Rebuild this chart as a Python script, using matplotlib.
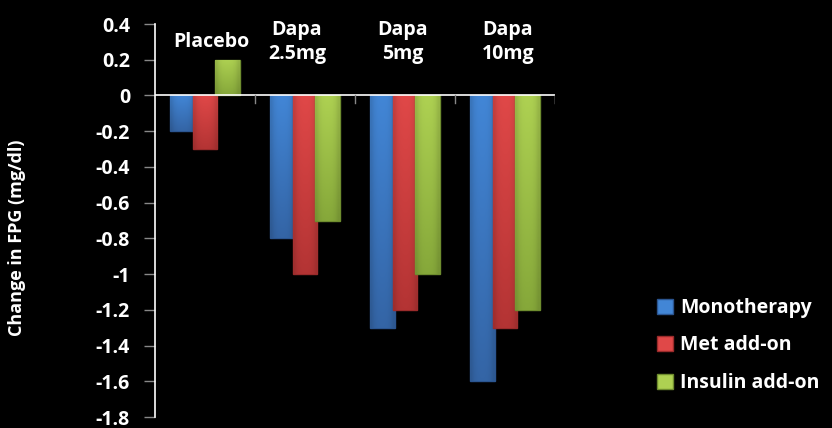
import matplotlib
matplotlib.use("Agg")
import matplotlib.pyplot as plt
import numpy as np
from matplotlib.colors import to_rgb

categories = ["Placebo", "Dapa\n2.5mg", "Dapa\n5mg", "Dapa\n10mg"]
series = ["Monotherapy", "Met add-on", "Insulin add-on"]
monotherapy = [-0.2, -0.8, -1.3, -1.6]
met_addon = [-0.3, -1.0, -1.2, -1.3]
insulin_addon = [0.2, -0.7, -1.0, -1.2]
yticks = [0.4, 0.2, 0, -0.2, -0.4, -0.6, -0.8, -1, -1.2, -1.4, -1.6, -1.8]
ytick_labels = ["0.4", "0.2", "0", "-0.2", "-0.4", "-0.6", "-0.8", "-1", "-1.2", "-1.4", "-1.6", "-1.8"]

colors_top = ["#4286D6", "#E04848", "#AED152"]
colors_bot = ["#3465A6", "#B43434", "#86A83A"]
edge_colors = ["#2B5590", "#9A2B2B", "#6E8C2E"]

FONT = "Open Sans"
plt.rcParams["font.family"] = [FONT, "DejaVu Sans"]
plt.rcParams["font.weight"] = "bold"

fig = plt.figure(figsize=(8.32, 4.28), dpi=100, facecolor="black")
ax = fig.add_axes([155 / 832, 1 - 417 / 428, 400 / 832, (417 - 24) / 428])
ax.set_facecolor("black")

x = np.arange(len(categories))
spacing = 0.225
width = 0.245
values = [monotherapy, met_addon, insulin_addon]


def gradient_fill(patch, c_top, c_bot):
    x0, y0 = patch.get_x(), patch.get_y()
    w, h = patch.get_width(), patch.get_height()
    ylo, yhi = min(y0, y0 + h), max(y0, y0 + h)
    top = np.array(to_rgb(c_top))
    bot = np.array(to_rgb(c_bot))
    n = 64
    t = np.linspace(0, 1, n)[:, None]
    col = top * (1 - t) + bot * t
    img = np.repeat(col[:, None, :], 8, axis=1)
    # subtle horizontal shading toward the bar edges
    hx = np.linspace(-1, 1, 8)
    shade = 1 - 0.12 * np.abs(hx) ** 3
    img = img * shade[None, :, None]
    im = ax.imshow(img, extent=[x0, x0 + w, ylo, yhi], origin="upper",
                   aspect="auto", zorder=patch.get_zorder(), interpolation="bilinear")
    im.set_clip_path(patch)


for i, (vals, name) in enumerate(zip(values, series)):
    bars = ax.bar(x + (i - 1) * spacing, vals, width=width, color=colors_top[i],
                  edgecolor=edge_colors[i], linewidth=1.0, label=name, zorder=2 + i)
    for b in bars:
        gradient_fill(b, colors_top[i], colors_bot[i])

ax.set_xlim(-0.5, len(categories) - 0.5)
ax.set_ylim(-1.8, 0.4)

# zero line acts as the category axis
ax.axhline(0, color="white", linewidth=1.2, zorder=6)
for xb in np.arange(0.5, len(categories), 1.0):
    ax.plot([xb, xb], [0, -0.04], color="#888888", linewidth=1.0, zorder=6)
ax.plot([len(categories) - 0.5] * 2, [0, -0.04], color="#888888", linewidth=1.0, zorder=6)

for s in ["top", "right", "bottom"]:
    ax.spines[s].set_visible(False)
ax.spines["left"].set_color("white")
ax.spines["left"].set_linewidth(1.2)
ax.set_xticks([])
ax.set_yticks(yticks)
ax.set_yticklabels(ytick_labels, color="white", fontsize=14, fontweight="bold")
ax.tick_params(axis="y", direction="out", length=8, color="#888888", width=1.0, pad=10)

fig.text(17 / 832, 1 - 238 / 428, "Change in FPG (mg/dl)", color="white", fontsize=13,
         fontweight="bold", rotation=90, ha="center", va="center")

# category captions above the groups
label_dx = [0.06, -0.08, -0.02, 0.03]
for xi, dx in zip(x, label_dx):
    ax.text(xi + dx, 0.30, categories[xi], color="white", fontsize=14, fontweight="bold",
            ha="center", va="center", linespacing=1.25, zorder=7)

leg = fig.legend(loc="upper left", bbox_to_anchor=(657 / 832, 1 - 298 / 428), frameon=False,
                 borderpad=0, borderaxespad=0,
                 handlelength=0.8, handleheight=0.8, handletextpad=0.4,
                 labelspacing=0.9, prop={"family": [FONT, "DejaVu Sans"], "weight": "bold", "size": 14})
for t in leg.get_texts():
    t.set_color("white")

fig.savefig("out.png", dpi=100, facecolor="black")
